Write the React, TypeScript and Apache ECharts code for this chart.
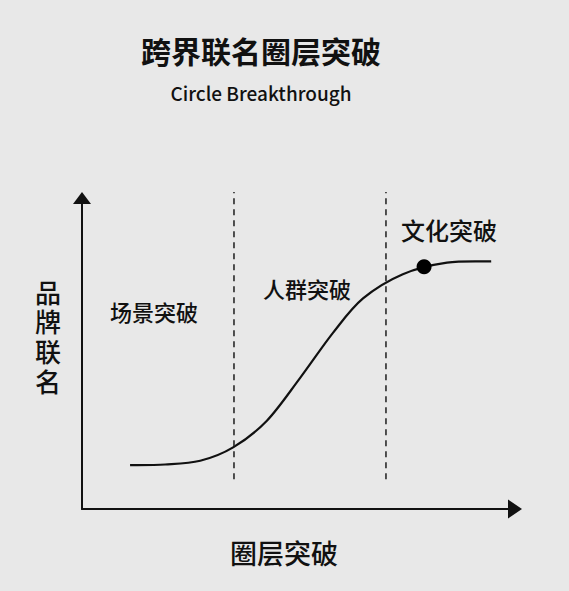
import { useEffect, useRef } from "react";
import * as echarts from "echarts";

// S-curve (x: 圈层突破, y: 品牌联名, both 0..100)
const curveX = [11.1, 19.2, 27.3, 34.9, 42.7, 50.3, 58.0, 64.9, 74.1, 84.3, 94.5];
const curveY = [14.1, 14.3, 15.5, 19.8, 28.4, 42.0, 56.7, 67.7, 75.5, 79.2, 79.6];

// phase dividers (dashed) and their vertical extent
const dividerX = [35.1, 70.2];
const dividerY = [9.6, 101.9];

// highlighted point on the curve
const markerPoint = [79.0, 77.9];

const TITLE = "跨界联名圈层突破";
const SUBTITLE = "Circle Breakthrough";
const phaseLabels = ["场景突破", "人群突破", "文化突破"];
const xName = "圈层突破";
const yName = "品牌联名";

const FONT = '"Noto Sans CJK SC", "Noto Sans", sans-serif';
const INK = "#111111";

// catmull-rom through pixel points -> svg path data
function splinePath(pts: number[][]) {
  let d = `M${pts[0][0]},${pts[0][1]}`;
  for (let i = 0; i < pts.length - 1; i++) {
    const p0 = pts[i - 1] || pts[i];
    const p1 = pts[i];
    const p2 = pts[i + 1];
    const p3 = pts[i + 2] || p2;
    const c1x = p1[0] + (p2[0] - p0[0]) / 6;
    const c1y = p1[1] + (p2[1] - p0[1]) / 6;
    const c2x = p2[0] - (p3[0] - p1[0]) / 6;
    const c2y = p2[1] - (p3[1] - p1[1]) / 6;
    d += ` C${c1x},${c1y} ${c2x},${c2y} ${p2[0]},${p2[1]}`;
  }
  return d;
}

export default function App() {
  const ref = useRef<HTMLDivElement | null>(null);

  useEffect(() => {
    if (!ref.current) return;
    const chart = echarts.init(ref.current, undefined, { renderer: "svg" });

    const curve = curveX.map((x, i) => [x, curveY[i]]);

    const dividers = dividerX.map((x) => ({
      type: "line",
      data: [
        [x, dividerY[0]],
        [x, dividerY[1]],
      ],
      symbol: "none",
      clip: false,
      silent: true,
      lineStyle: { color: "#2a2a2a", width: 1.6, type: [6, 5] },
    }));

    const txt = (text: string, x: number, y: number, size: number, weight: string | number = 500) => ({
      type: "text",
      x,
      y,
      style: {
        text,
        fill: INK,
        font: `${weight} ${size}px ${FONT}`,
        align: "center",
        verticalAlign: "middle",
      },
    });

    // vertical y-axis name, one glyph per element
    const yNameChars = yName.split("").map((ch, i) => txt(ch, 48, 291 + i * 29.7, 26));

    chart.setOption({
      animation: false,
      backgroundColor: "#e8e8e8",
      grid: { left: 82, right: 54, top: 198, bottom: 82 },
      xAxis: {
        type: "value",
        min: 0,
        max: 100,
        axisLine: {
          show: true,
          symbol: ["none", "triangle"],
          symbolSize: [19, 14],
          lineStyle: { color: INK, width: 2 },
        },
        axisTick: { show: false },
        axisLabel: { show: false },
        splitLine: { show: false },
      },
      yAxis: {
        type: "value",
        min: 0,
        max: 100,
        axisLine: {
          show: true,
          symbol: ["none", "triangle"],
          symbolSize: [18, 12],
          lineStyle: { color: INK, width: 2 },
        },
        axisTick: { show: false },
        axisLabel: { show: false },
        splitLine: { show: false },
      },
      series: [
        ...dividers,
        {
          type: "custom",
          data: curve,
          silent: true,
          renderItem: (params: any, api: any) => {
            if (params.dataIndex !== 0) return null;
            const pts = curve.map((p) => api.coord(p));
            return {
              type: "path",
              shape: { pathData: splinePath(pts) },
              style: { stroke: INK, lineWidth: 2.2, fill: "none" },
            };
          },
        },
        {
          type: "scatter",
          data: [markerPoint],
          symbolSize: 15,
          itemStyle: { color: "#000", opacity: 1 },
        },
      ],
      graphic: [
        txt(TITLE, 261, 50, 30, "bold"),
        txt(SUBTITLE, 261, 92, 19),
        txt(phaseLabels[0], 154, 311, 22),
        txt(phaseLabels[1], 307, 288, 22),
        txt(phaseLabels[2], 449, 229, 24),
        txt(xName, 284, 552, 27),
        ...yNameChars,
      ],
    });

    return () => chart.dispose();
  }, []);

  return (
    <div
      ref={ref}
      style={{ position: "fixed", left: 0, top: 0, width: 569, height: 591 }}
    />
  );
}
